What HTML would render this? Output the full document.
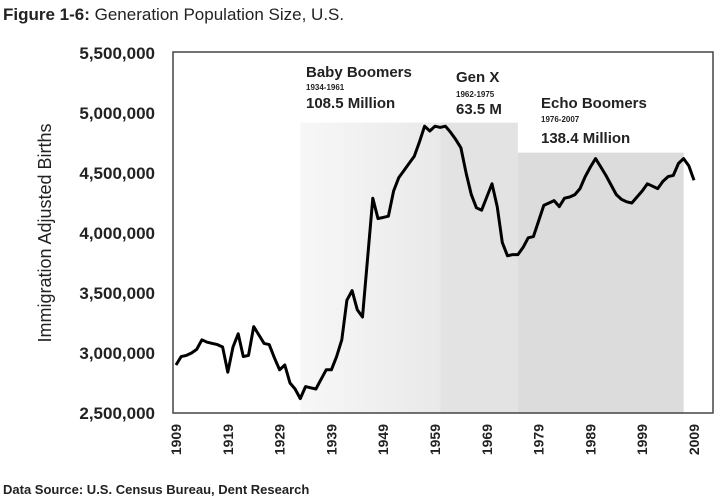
<!DOCTYPE html>
<html><head><meta charset="utf-8"><style>
body{margin:0;background:#fff;}
svg{display:block;font-family:"Liberation Sans",sans-serif;}
</style></head><body>
<svg id="chart" width="720" height="501" viewBox="0 0 720 501">
<defs><linearGradient id="bbg" x1="0" x2="1" y1="0" y2="0"><stop offset="0" stop-color="#f7f7f7"/><stop offset="1" stop-color="#e9e9e9"/></linearGradient></defs>
<text x="3" y="20" font-size="17" fill="#222"><tspan font-weight="bold">Figure 1-6:</tspan> Generation Population Size, U.S.</text>
<g id="regions"></g>
<rect x="173" y="52" width="540" height="361" fill="none" stroke="#444" stroke-width="1.5"/>
<g id="marks"></g>
<g id="yticks"></g>
<g id="xticks"></g>
<text transform="translate(51,233) rotate(-90)" text-anchor="middle" font-size="18" fill="#222">Immigration Adjusted Births</text>
<g font-weight="bold" fill="#222">
<text x="306" y="77" font-size="15">Baby Boomers</text>
<text x="306" y="90" font-size="8">1934-1961</text>
<text x="306" y="108" font-size="15">108.5 Million</text>
<text x="456" y="82" font-size="15">Gen X</text>
<text x="456" y="97" font-size="8">1962-1975</text>
<text x="456" y="114" font-size="15">63.5 M</text>
<text x="541" y="108" font-size="15">Echo Boomers</text>
<text x="541" y="122" font-size="8">1976-2007</text>
<text x="541" y="143" font-size="15">138.4 Million</text>
</g>
<text x="3" y="494" font-size="13" font-weight="bold" fill="#222">Data Source: U.S. Census Bureau, Dent Research</text>
</svg>
<script>
const startYear = 1909;
const births = [2.90,2.97,2.98,3.00,3.03,3.11,3.09,3.08,3.07,3.05,2.84,3.05,3.16,2.97,2.98,3.22,3.15,3.08,3.07,2.96,2.86,2.90,2.75,2.70,2.62,2.72,2.71,2.70,2.78,2.86,2.86,2.97,3.11,3.44,3.52,3.36,3.30,3.80,4.29,4.12,4.13,4.14,4.35,4.46,4.52,4.58,4.64,4.76,4.89,4.85,4.89,4.88,4.89,4.84,4.78,4.71,4.50,4.32,4.21,4.19,4.30,4.41,4.22,3.92,3.81,3.82,3.82,3.88,3.96,3.97,4.10,4.23,4.25,4.27,4.22,4.29,4.30,4.32,4.37,4.47,4.55,4.62,4.55,4.48,4.40,4.32,4.28,4.26,4.25,4.30,4.35,4.41,4.39,4.37,4.43,4.47,4.48,4.58,4.62,4.56,4.44];
const yTicks = [2500000,3000000,3500000,4000000,4500000,5000000,5500000];
const xTickYears = [1909,1919,1929,1939,1949,1959,1969,1979,1989,1999,2009];
const regionNames = ['baby-boomers','gen-x','echo-boomers'];
const regionStart = [1933,1960,1975];
const regionEnd = [1960,1975,2007];
const regionTop = [4.92,4.92,4.67];

const X = y => 176 + (y - 1909) * 5.18;
const Y = v => 413 - (v - 2500000) / 500000 * 60;
const NS = 'http://www.w3.org/2000/svg';
function mk(tag, attrs, parent){const e=document.createElementNS(NS,tag);for(const k in attrs)e.setAttribute(k,attrs[k]);parent.appendChild(e);return e;}

const fills = ['url(#bbg)','#e3e3e3','#dcdcdc'];
const rg = document.getElementById('regions');
regionNames.forEach((n,i)=>{
  const r = mk('rect',{x:X(regionStart[i]),y:Y(regionTop[i]*1e6),width:X(regionEnd[i])-X(regionStart[i]),height:413-Y(regionTop[i]*1e6),fill:fills[i]},rg);
  
  
});

const pts = births.map((v,i)=>X(startYear+i).toFixed(1)+','+Y(v*1e6).toFixed(1)).join(' ');
const line = mk('polyline',{points:pts,fill:'none',stroke:'#000','stroke-width':3,'stroke-linejoin':'round'},document.getElementById('marks'));



const yg = document.getElementById('yticks');
yTicks.forEach(t=>{
  const e = mk('text',{x:155,y:Y(t)+6,'text-anchor':'end','font-size':17,'font-weight':'bold',fill:'#222'},yg);
  e.textContent = t.toLocaleString('en-US');
  
  
});
const xg = document.getElementById('xticks');
xTickYears.forEach(t=>{
  const e = mk('text',{transform:`translate(${X(t)+5},424) rotate(-90)`,'text-anchor':'end','font-size':14,'font-weight':'bold',fill:'#222'},xg);
  e.textContent = t;
  
  
});
</script>
</body></html>
